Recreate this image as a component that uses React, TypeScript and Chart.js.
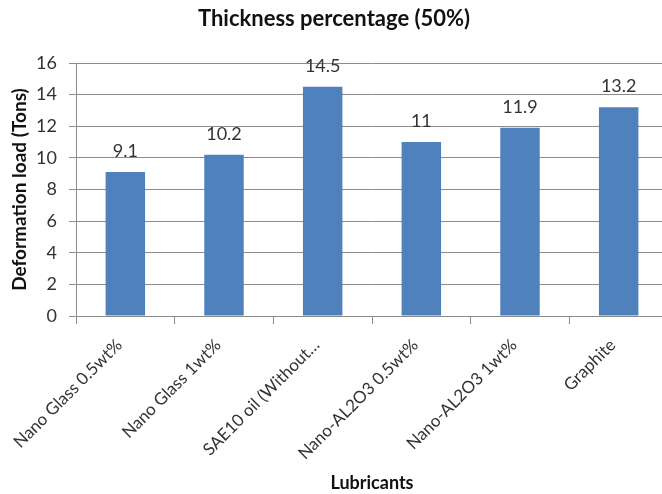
import React, { useEffect, useRef } from "react";
import { Chart, registerables } from "chart.js";

Chart.register(...registerables);

const categories = [
  "Nano Glass 0.5wt%",
  "Nano Glass 1wt%",
  "SAE10 oil (Without…",
  "Nano-AL2O3 0.5wt%",
  "Nano-AL2O3 1wt%",
  "Graphite",
];
const deformationLoad = [9.1, 10.2, 14.5, 11, 11.9, 13.2];
const yTicks = [0, 2, 4, 6, 8, 10, 12, 14, 16];

const FONT = "Lato, 'Open Sans', sans-serif";
const GRID = "#8c8c8c";
const TEXT = "#333333";

const valueLabels = {
  id: "valueLabels",
  afterDatasetsDraw(chart: any) {
    const ctx = chart.ctx;
    const meta = chart.getDatasetMeta(0);
    ctx.save();
    ctx.font = `18px ${FONT}`;
    ctx.fillStyle = TEXT;
    ctx.textAlign = "center";
    ctx.textBaseline = "alphabetic";
    meta.data.forEach((bar: any, i: number) => {
      ctx.fillText(String(deformationLoad[i]), bar.x, bar.y - 15);
    });
    ctx.restore();
  },
};

export default function App() {
  const ref = useRef<HTMLCanvasElement>(null);
  useEffect(() => {
    if (!ref.current) return;
    const chart = new Chart(ref.current, {
      type: "bar",
      data: {
        labels: categories,
        datasets: [
          {
            data: deformationLoad,
            backgroundColor: "#4F81BD",
            borderWidth: 0,
            categoryPercentage: 1,
            barPercentage: 0.4,
          },
        ],
      },
      options: {
        responsive: false,
        animation: false,
        devicePixelRatio: 1,
        layout: { padding: 0 },
        plugins: {
          legend: { display: false },
          tooltip: { enabled: false },
          title: {
            display: true,
            text: "Thickness percentage (50%)",
            color: "#111111",
            font: { family: FONT, size: 22, weight: "bold", lineHeight: 1.2 },
            padding: { top: 6, bottom: 30.6 },
          },
        },
        scales: {
          x: {
            grid: {
              offset: true,
              drawOnChartArea: false,
              drawTicks: true,
              tickLength: 8,
              color: GRID,
            },
            border: { display: true, color: GRID },
            ticks: {
              color: TEXT,
              font: { family: FONT, size: 17 },
              minRotation: 45,
              maxRotation: 45,
              autoSkip: false,
              padding: 11,
              labelOffset: -6,
            },
            title: {
              display: true,
              text: "Lubricants",
              color: "#111111",
              font: { family: FONT, size: 18, weight: "bold", lineHeight: 1.2 },
              padding: { top: 0, bottom: 0 },
            },
            afterFit(scale: any) {
              scale.height = 178;
            },
          },
          y: {
            min: 0,
            max: 16,
            afterBuildTicks(scale: any) {
              scale.ticks = yTicks.map((v) => ({ value: v }));
            },
            grid: { color: GRID, drawTicks: true, tickLength: 7 },
            border: { display: true, color: GRID },
            ticks: {
              color: TEXT,
              font: { family: FONT, size: 18 },
              padding: 12,
            },
            title: {
              display: true,
              text: "Deformation load (Tons)",
              color: "#111111",
              font: { family: FONT, size: 19, weight: "bold", lineHeight: 1.2 },
              padding: { top: 8, bottom: 0 },
            },
            afterFit(scale: any) {
              scale.width = 76;
            },
          },
        },
      },
      plugins: [valueLabels],
    });
    return () => chart.destroy();
  }, []);
  return (
    <div
      style={{
        position: "fixed",
        left: 0,
        top: 0,
        width: 662,
        height: 494,
        overflow: "hidden",
        background: "#ffffff",
      }}
    >
      <canvas ref={ref} width={668} height={494} style={{ display: "block" }} />
    </div>
  );
}
